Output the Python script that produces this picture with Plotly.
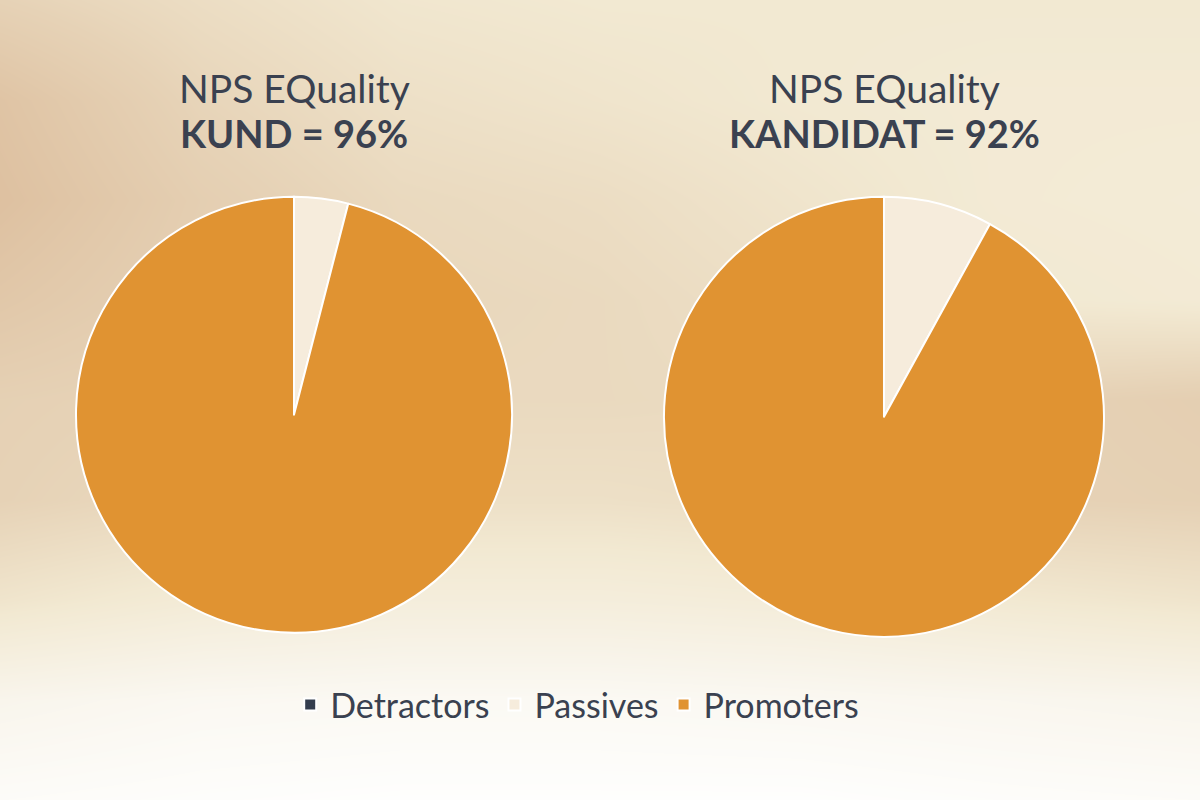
import plotly.graph_objects as go

# dados das pizzas
labels = ["Detractors", "Passives", "Promoters"]
kund_values = [0, 4, 96]
kandidat_values = [0, 8, 92]
colors = ["#333d4d", "#f6ecdc", "#e09332"]

titles_top = ["NPS EQuality", "NPS EQuality"]
titles_bold = ["KUND = 96%", "KANDIDAT = 92%"]

# fundo (degradê suave) - grade de tons
bg_x = [0, 200, 400, 600, 800, 1000, 1200]
bg_y = [0, 100, 200, 300, 400, 500, 600, 700, 800]
bg_z = [
    [0.30, 0.42, 0.52, 0.55, 0.55, 0.55, 0.55],
    [0.10, 0.33, 0.45, 0.50, 0.55, 0.58, 0.58],
    [0.05, 0.25, 0.38, 0.42, 0.50, 0.58, 0.60],
    [0.15, 0.28, 0.35, 0.38, 0.45, 0.55, 0.58],
    [0.28, 0.32, 0.38, 0.38, 0.40, 0.30, 0.25],
    [0.30, 0.38, 0.45, 0.45, 0.42, 0.30, 0.28],
    [0.50, 0.60, 0.65, 0.65, 0.62, 0.55, 0.50],
    [0.82, 0.88, 0.90, 0.90, 0.88, 0.85, 0.82],
    [0.95, 0.98, 1.00, 1.00, 1.00, 0.97, 0.95],
]
bg_scale = [[0, "#dcbd9c"], [0.3, "#e6d2b6"], [0.55, "#f2e9d2"], [0.8, "#f8f4ea"], [1, "#fefefd"]]

fig = go.Figure()

fig.add_trace(go.Heatmap(x=bg_x, y=bg_y, z=bg_z, colorscale=bg_scale, zmin=0, zmax=1,
                         zsmooth="best", showscale=False, hoverinfo="skip"))

fig.add_trace(go.Pie(labels=labels, values=kund_values, sort=False, direction="clockwise",
                     rotation=0, textinfo="none", hoverinfo="label+percent",
                     marker=dict(colors=colors, line=dict(color="white", width=2)),
                     domain=dict(x=[0.0633, 0.4267], y=[0.209, 0.754])))
fig.add_trace(go.Pie(labels=labels, values=kandidat_values, sort=False, direction="clockwise",
                     rotation=0, textinfo="none", hoverinfo="label+percent",
                     marker=dict(colors=colors, line=dict(color="white", width=2)),
                     domain=dict(x=[0.5533, 0.92], y=[0.204, 0.754])))

# títulos
centros = [0.245, 0.737]
for cx, t1, t2 in zip(centros, titles_top, titles_bold):
    fig.add_annotation(x=cx, y=1 - 88 / 800, xref="paper", yref="paper", text=t1,
                       xanchor="center", yanchor="middle", showarrow=False,
                       font=dict(family="Lato", size=39, color="#3a4150"))
    fig.add_annotation(x=cx, y=1 - 133 / 800, xref="paper", yref="paper", text="<b>" + t2 + "</b>",
                       xanchor="center", yanchor="middle", showarrow=False,
                       font=dict(family="Lato", size=38, color="#3a4150"))

fig.update_layout(
    width=1200, height=800,
    margin=dict(l=0, r=0, t=0, b=0),
    paper_bgcolor="#f3ead8",
    plot_bgcolor="rgba(0,0,0,0)",
    font=dict(family="Lato", color="#3a4150"),
    xaxis=dict(range=[0, 1200], visible=False, domain=[0, 1], fixedrange=True),
    yaxis=dict(range=[800, 0], visible=False, domain=[0, 1], fixedrange=True),
    legend=dict(orientation="h", x=0.481, xanchor="center", y=1 - 705 / 800, yanchor="middle",
                font=dict(family="Lato", size=34, color="#3a4150"),
                bgcolor="rgba(0,0,0,0)", itemwidth=30),
)

fig.write_html("out.html", config={"displayModeBar": False},
               post_script="document.body.style.margin='0';")
